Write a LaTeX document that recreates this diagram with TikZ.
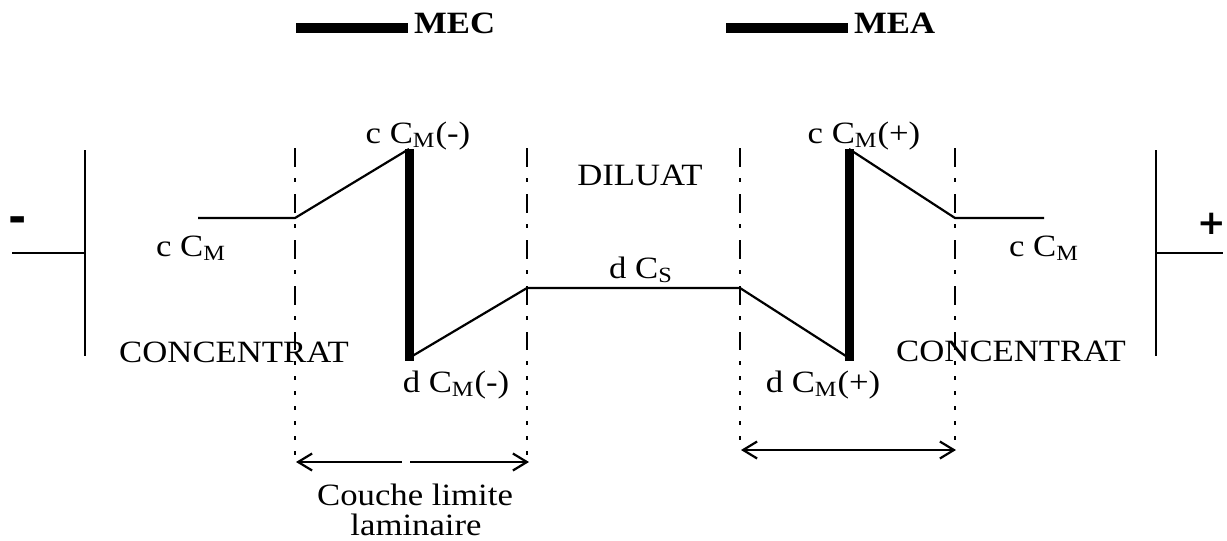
\documentclass[tikz,border=0pt]{standalone}
\usepackage{fontspec}
\setmainfont{Liberation Serif}[FakeStretch=1.12]
\newfontfamily\polefont{DejaVu Sans}
\usetikzlibrary{arrows.meta}
\begin{document}
\begin{tikzpicture}[x=0.5pt,y=-0.5pt,line width=1.1pt,
  >={Straight Barb[length=7pt,width=8.5pt]},
  bar/.style={line width=4.5pt},
  keybar/.style={line width=5pt},
  sep/.style={line width=1.3pt,dash pattern=on 9.5pt off 5.5pt on 2pt off 6pt},
  sepdot/.style={line width=1.3pt,dash pattern=on 2pt off 5.5pt},
  lbl/.style={anchor=base,inner sep=0pt,font=\fontsize{15.5}{18}\selectfont},
  keylbl/.style={anchor=base west,inner sep=0pt,font=\fontsize{15.5}{18}\selectfont\bfseries},
  pole/.style={anchor=base,inner sep=0pt,font=\polefont\bfseries}]
\useasboundingbox (0,0) rectangle (1227,541);
\pgfmathsetmacro{\lvlc}{218}
\pgfmathsetmacro{\lvld}{288}
\pgfmathsetmacro{\memtop}{149}
\pgfmathsetmacro{\membot}{361}
\draw[keybar] (296,28) -- (408,28);
\node[keylbl] (mec) at (413,33) {MEC};
\draw[keybar] (726,28) -- (848,28);
\node[keylbl] (mea) at (853,33) {MEA};
\foreach \x/\o in {85/12,1156/1223}
  \draw (\x,150) -- (\x,356) (\x,253) -- (\o,253);
\node[pole,font=\polefont\bfseries\fontsize{22}{24}\selectfont] (minus) at (18,232) {-};
\node[pole,font=\polefont\bfseries\fontsize{17}{20}\selectfont] (plus) at (1212,234) {+};
\foreach \x/\e in {295/463,527/463,740/449,955/449} {
  \draw[sep] (\x,148) -- (\x,346);
  \draw[sepdot] (\x,346) -- (\x,\e);
}
\coordinate (cl) at (198,\lvlc);
\coordinate (b1) at (295,\lvlc);
\coordinate (m1t) at (409,\memtop);
\coordinate (m1b) at (409,\membot);
\coordinate (b2) at (527,\lvld);
\coordinate (b3) at (740,\lvld);
\coordinate (m2b) at (849,\membot);
\coordinate (m2t) at (849,\memtop);
\coordinate (b4) at (955,\lvlc);
\coordinate (cr) at (1044,\lvlc);
\draw (cl) -- (b1) -- (m1t);
\draw[bar] (m1t) -- (m1b);
\draw (409,358) -- (b2) -- (b3) -- (849,358);
\draw[bar] (m2b) -- (m2t);
\draw (m2t) -- (b4) -- (cr);
\node[lbl] (ccmL) at (191,256) {c C\textsubscript{M}};
\node[lbl] (ccmneg) at (418,143) {c C\textsubscript{M}(-)};
\node[lbl] (dcmneg) at (456,392) {d C\textsubscript{M}(-)};
\node[lbl] (concL) at (234,362) {CONCENTRAT};
\node[lbl] (dil) at (640,185) {DILUAT};
\node[lbl] (dcs) at (641,278) {d C\textsubscript{S}};
\node[lbl] (ccmpos) at (864,143) {c C\textsubscript{M}(+)};
\node[lbl] (dcmpos) at (823,392) {d C\textsubscript{M}(+)};
\node[lbl] (concR) at (1011,361) {CONCENTRAT};
\node[lbl] (ccmR) at (1044,256) {c C\textsubscript{M}};
\coordinate (dl) at (296,462);
\coordinate (dm) at (406,462);
\coordinate (dr) at (529,462);
\draw[<-] (dl) -- ([xshift=-2]dm);
\draw[->] ([xshift=2]dm) -- (dr);
\coordinate (el) at (741,450);
\coordinate (er) at (956,450);
\draw[<->] (el) -- (er);
\node[lbl] (couche) at (415,505) {Couche limite};
\node[lbl] (lam) at (416,535) {laminaire};
\end{tikzpicture}
\end{document}
